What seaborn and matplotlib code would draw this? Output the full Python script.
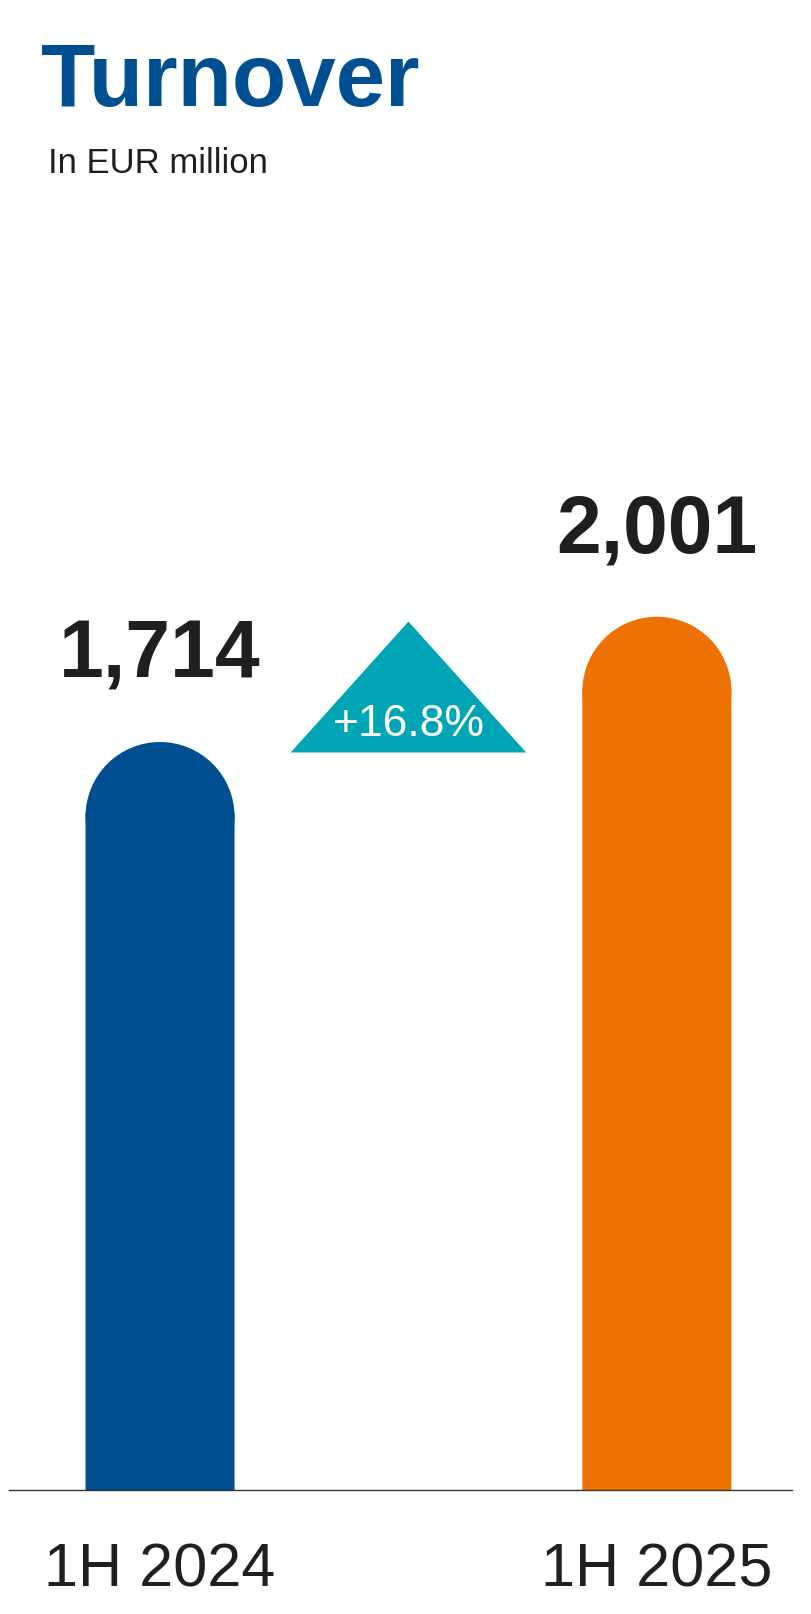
import matplotlib
matplotlib.use("Agg")
import matplotlib.pyplot as plt
import seaborn as sns
import pandas as pd
from matplotlib.patches import Ellipse, Polygon

# data
periods = ["1H 2024", "1H 2025"]
turnover = [1714, 2001]
value_labels = ["1,714", "2,001"]
change_label = "+16.8%"

bar_colors = ["#004f91", "#ee7203"]
title_blue = "#004f91"
teal = "#00a5b5"
dark = "#1f1f1f"

sns.set_theme(style="white")
plt.rcParams["font.family"] = ["Liberation Sans", "DejaVu Sans"]

df = pd.DataFrame({"period": periods, "turnover": turnover})

fig = plt.figure(figsize=(8.11, 16.15), dpi=100)
ax = fig.add_axes([9 / 811, 124 / 1615, 783 / 811, 1091 / 1615])

sns.barplot(data=df, x="period", y="turnover", hue="period", palette=bar_colors,
            legend=False, width=0.30, saturation=1, linewidth=0, ax=ax)

ax.set_xlim(-0.304, 1.272)
ax.set_ylim(0, 2500)

# rounded tops: convert half bar width (pixels) into y data units
fig.canvas.draw()
px_x = ax.transData.transform((1, 0))[0] - ax.transData.transform((0, 0))[0]
px_y = ax.transData.transform((0, 1))[1] - ax.transData.transform((0, 0))[1]
for patch, val, col in zip(ax.patches, turnover, bar_colors):
    w = patch.get_width()
    cx = patch.get_x() + w / 2
    r = (w / 2) * px_x / px_y
    patch.set_height(val - r + 0.04 * r)  # small overlap hides the seam
    patch.set_edgecolor("none")
    patch.set_snap(False)
    ax.add_patch(Ellipse((cx, val - r), w, 2 * r, facecolor=col,
                         edgecolor="none", linewidth=0))

# value labels
for i, (val, lab) in enumerate(zip(turnover, value_labels)):
    ax.annotate(lab, (i, val), xytext=(0, 47), textcoords="offset points",
                ha="center", va="baseline", fontsize=58, fontweight="bold",
                color=dark)

# growth triangle
tri = Polygon([(0.263, 1690), (0.737, 1690), (0.5, 1990)], closed=True,
              facecolor=teal, edgecolor="none")
ax.add_patch(tri)
ax.text(0.5, 1757, change_label, ha="center", va="center", fontsize=32,
        color="white")

# axes styling
sns.despine(ax=ax, left=True, top=True, right=True)
ax.spines["bottom"].set_color("#333333")
ax.spines["bottom"].set_linewidth(1.0)
ax.set_yticks([])
ax.set_xlabel("")
ax.set_ylabel("")
ax.tick_params(axis="x", length=0, pad=37, labelsize=44, labelcolor=dark)

# title
fig.text(41 / 811, 1 - 106 / 1615, "Turnover", ha="left", va="baseline",
         fontsize=64, fontweight="bold", color=title_blue)
fig.text(48 / 811, 1 - 173 / 1615, "In EUR million", ha="left", va="baseline",
         fontsize=25, color=dark)

fig.savefig("out.png", dpi=100, facecolor="white")
